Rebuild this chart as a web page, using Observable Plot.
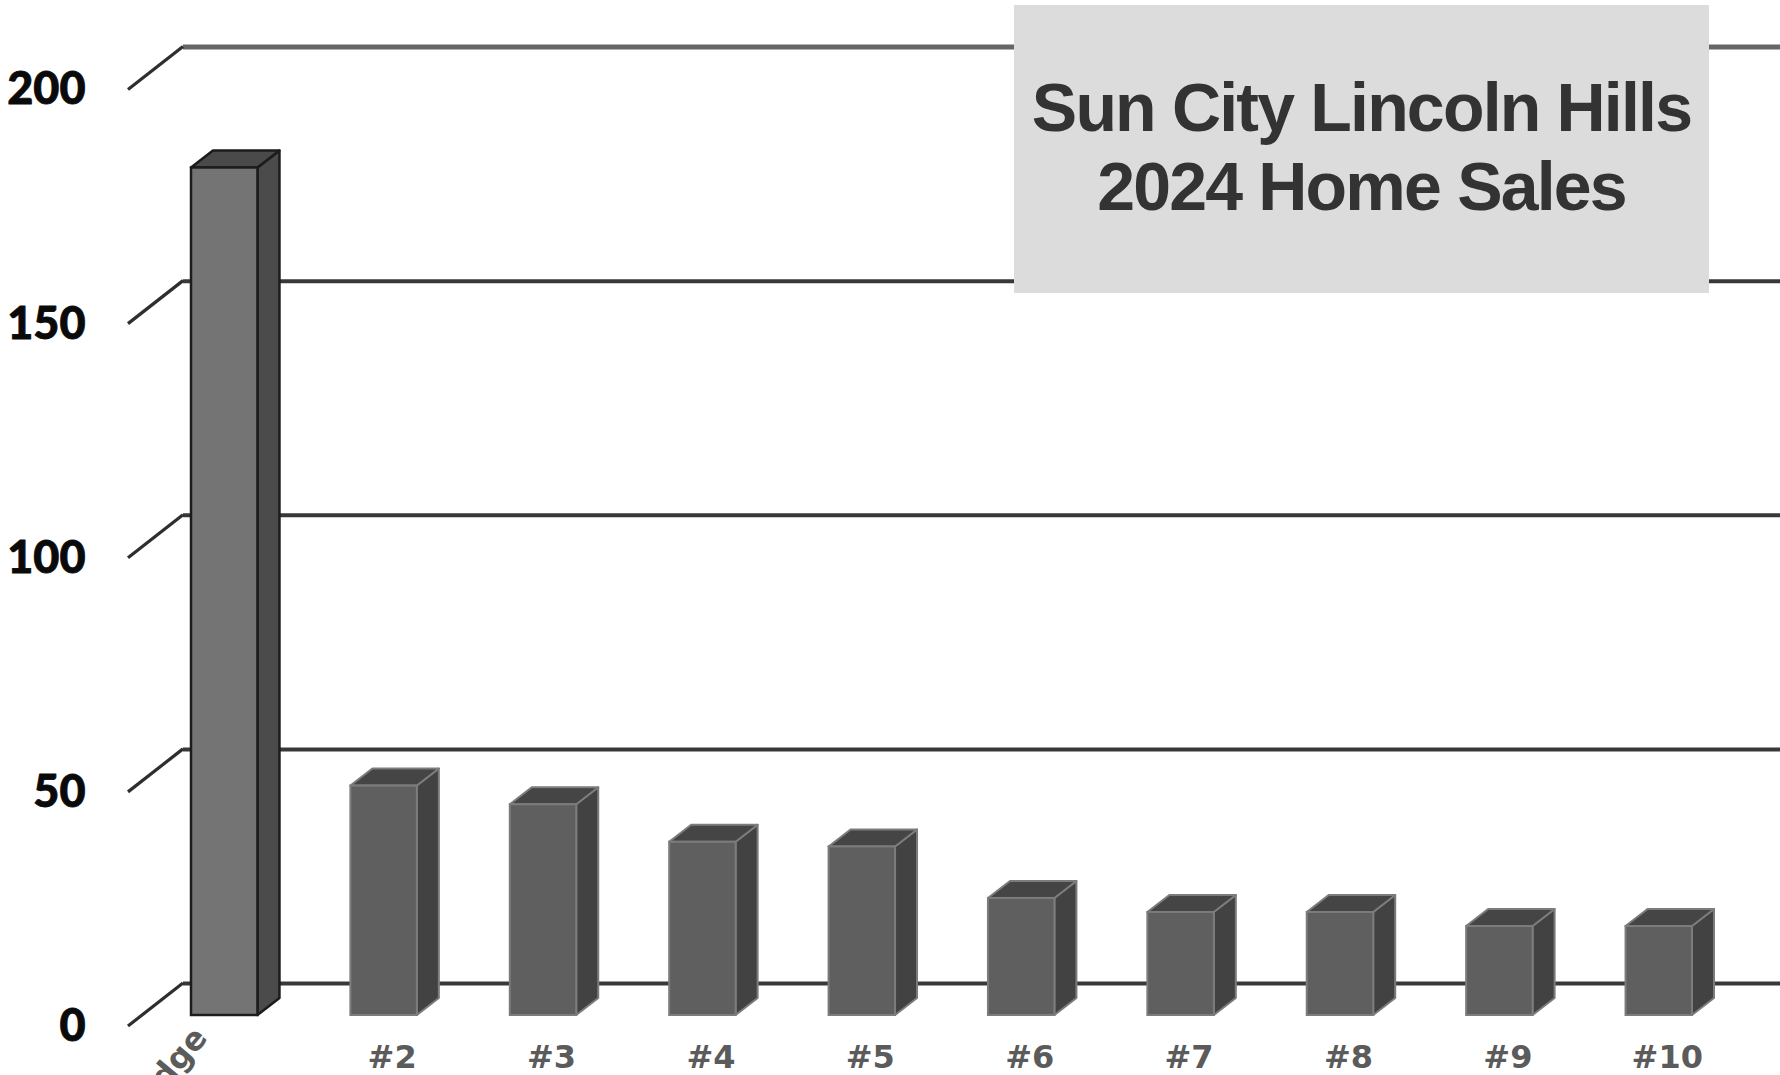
<!DOCTYPE html>
<html>
<head>
<meta charset="utf-8">
<script src="https://cdn.jsdelivr.net/npm/d3@7"></script>
<script src="https://cdn.jsdelivr.net/npm/@observablehq/plot@0.6"></script>
<style>
  html, body { margin: 0; padding: 0; background: #fff; overflow: hidden; }
  #wrap { position: relative; width: 1780px; height: 1075px; }
  #title {
    position: absolute; left: 1014px; top: 5px; width: 695px; height: 288px;
    background: #dcdcdc; color: #333;
    font-family: "Liberation Sans", Arial, sans-serif; font-weight: bold;
    font-size: 68px; line-height: 79px; letter-spacing: -1.8px;
    text-align: center; box-sizing: border-box; padding-top: 63px;
  }
</style>
</head>
<body>
<div id="wrap"></div>
<script>
// ---- data ----
const categories = ["Ridge", "#2", "#3", "#4", "#5", "#6", "#7", "#8", "#9", "#10"];
const sales = [181, 49, 45, 37, 36, 25, 22, 22, 19, 19];
const yTicks = [0, 50, 100, 150, 200];
const titleLines = ["Sun City Lincoln Hills", "2024 Home Sales"];

const rows = categories.map((cat, i) => ({cat, value: sales[i], i}));
const firstRow = rows.slice(0, 1);
const otherRows = rows.slice(1);

// oblique 3D offsets (px)
const FX = 14, FY = -11;     // bar front face offset from front plane
const DX = 22, DY = 17;      // bar depth
const WX = 55, WY = 43;      // back wall offset from front plane

function boxSides(data, sty) {
  return (index, scales, values, dims) => {
    const g = d3.create("svg:g");
    const bw = scales.x.bandwidth ? scales.x.bandwidth() : 66;
    for (const r of data) {
      const L = scales.x(r.cat) + FX, R = L + bw;
      const T = scales.y(r.value) + FY, B = scales.y(0) + FY;
      g.append("path")
        .attr("d", `M${R},${T}L${R + DX},${T - DY}L${R + DX},${B - DY}L${R},${B}Z`)
        .attr("fill", sty.side).attr("stroke", sty.stroke).attr("stroke-width", sty.sw)
        .attr("stroke-linejoin", "round");
      g.append("path")
        .attr("d", `M${L},${T}L${L + DX},${T - DY}L${R + DX},${T - DY}L${R},${T}Z`)
        .attr("fill", sty.top).attr("stroke", sty.stroke).attr("stroke-width", sty.sw)
        .attr("stroke-linejoin", "round");
    }
    return g.node();
  };
}

function diagonals(index, scales, values, dims) {
  const g = d3.create("svg:g");
  for (const t of yTicks) {
    const yy = scales.y(t);
    g.append("line")
      .attr("x1", dims.marginLeft).attr("y1", yy)
      .attr("x2", dims.marginLeft + WX).attr("y2", yy - WY)
      .attr("stroke", "#2e2e2e").attr("stroke-width", 3.2);
  }
  return g.node();
}

const style1 = {side: "#4b4b4b", top: "#4a4a4a", stroke: "#1c1c1c", sw: 2.5};
const styleN = {side: "#424242", top: "#454545", stroke: "#7c7c7c", sw: 2};

const chart = Plot.plot({
  width: 1780,
  height: 1075,
  marginLeft: 128,
  marginRight: 53,
  marginTop: 89.5,
  marginBottom: 49,
  style: {background: "white"},
  x: {type: "band", domain: categories, paddingInner: 0.583, paddingOuter: 0.3074, align: 0.5, round: false, axis: null},
  y: {domain: [0, 200], axis: null},
  marks: [
    Plot.ruleY(yTicks.filter(v => v < 200), {y: d => d, dx: WX, dy: -WY, stroke: "#383838", strokeWidth: 4}),
    Plot.ruleY(yTicks.filter(v => v === 200), {y: d => d, dx: WX, dy: -WY, stroke: "#666", strokeWidth: 5}),
    diagonals,
    Plot.text(yTicks, {
      y: d => d, frameAnchor: "left", textAnchor: "end", dx: -43,
      text: d => String(d), fontSize: 45, fontWeight: 900, fontFamily: "Lato, sans-serif", fill: "#0a0a0a",
      stroke: "#0a0a0a", strokeWidth: 0.8
    }),
    boxSides(otherRows, styleN),
    Plot.barY(otherRows, {x: "cat", y: "value", dx: FX, dy: FY, fill: "#5f5f5f", stroke: "#7c7c7c", strokeWidth: 2}),
    boxSides(firstRow, style1),
    Plot.barY(firstRow, {x: "cat", y: "value", dx: FX, dy: FY, fill: "#747474", stroke: "#1c1c1c", strokeWidth: 2.5}),
    Plot.text(otherRows, {
      x: "cat", text: "cat", frameAnchor: "bottom", lineAnchor: "middle", dx: 22, dy: 31,
      fontSize: 32, fontWeight: "bold", fontFamily: "DejaVu Sans, sans-serif", fill: "#5b5b5b"
    }),
    Plot.text(firstRow, {
      x: "cat", text: "cat", frameAnchor: "bottom", dx: -2, dy: 12, rotate: -50, textAnchor: "end",
      fontSize: 32, fontWeight: "bold", fontFamily: "DejaVu Sans, sans-serif", fill: "#5b5b5b"
    })
  ]
});

const wrap = document.getElementById("wrap");
wrap.appendChild(chart);
const title = document.createElement("div");
title.id = "title";
title.innerHTML = titleLines.map(t => `<div>${t}</div>`).join("");
wrap.appendChild(title);
</script>
</body>
</html>
